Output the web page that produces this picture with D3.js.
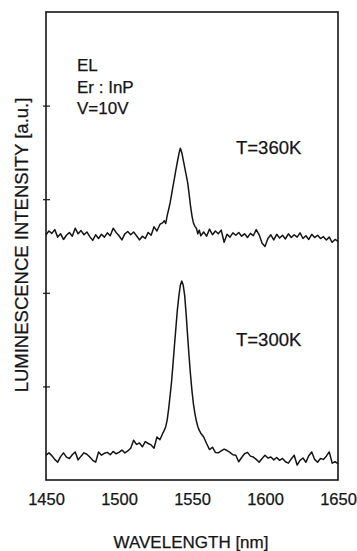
<!DOCTYPE html>
<html>
<head>
<meta charset="utf-8">
<script src="https://cdn.jsdelivr.net/npm/d3@7"></script>
<style>
  body { margin: 0; background: #fff; }
  svg text { font-family: "Liberation Sans", Arial, sans-serif; fill: #151515; stroke: #151515; stroke-width: 0.25px; }
</style>
</head>
<body>
<div id="content"></div>
<script>
// EL spectra of Er:InP
var xTicks = [1450, 1500, 1550, 1600, 1650],
    yTicks = [20, 40, 60, 80],
    infoLines = ['EL', 'Er : InP', 'V=10V'],
    seriesNames = ['T=360K', 'T=300K'];

// [wavelength nm, intensity a.u.]
var spectrum360 = [
  [1450,52.4],[1452,53.2],[1454,52.7],[1456,53.5],[1458,51.9],[1460,52.6],[1462,51.4],[1464,52.3],
  [1466,52.9],[1468,52.1],[1470,53.8],[1472,52.6],[1474,53.3],[1476,52.4],[1478,53.0],[1480,52.0],
  [1482,51.2],[1484,52.4],[1486,51.6],[1488,52.5],[1490,51.9],[1492,52.8],[1494,52.2],[1496,53.8],
  [1498,52.9],[1500,52.2],[1502,51.3],[1504,52.6],[1506,53.1],[1508,52.4],[1510,53.0],[1512,52.2],
  [1514,51.3],[1516,52.1],[1518,51.6],[1520,52.9],[1522,52.3],[1524,54.1],[1526,53.2],[1528,54.6],
  [1530,55.0],[1531,55.4],[1532,54.8],[1533,56.5],[1534,57.8],[1535,59.2],[1536,61.0],[1537,62.8],
  [1538,64.5],[1539,66.3],[1540,68.0],[1541,69.6],[1542,70.9],[1543,70.0],[1544,68.4],[1545,66.8],
  [1546,65.2],[1547,63.6],[1548,61.2],[1549,58.5],[1550,56.4],[1551,54.9],[1552,54.2],[1553,53.8],
  [1554,52.6],[1555,53.4],[1556,52.2],[1558,53.0],[1560,52.1],[1562,53.6],[1564,52.4],[1566,53.2],
  [1568,52.6],[1570,53.4],[1572,50.8],[1574,52.5],[1576,51.9],[1578,52.8],[1580,52.3],[1582,52.9],
  [1584,52.1],[1586,52.6],[1588,51.8],[1590,52.7],[1592,52.2],[1594,53.5],[1596,52.4],[1598,50.6],
  [1600,49.9],[1602,51.6],[1604,52.4],[1606,51.3],[1608,52.5],[1610,51.7],[1612,52.3],[1614,51.5],
  [1616,52.6],[1618,51.8],[1620,52.4],[1622,51.9],[1624,52.8],[1626,51.6],[1628,52.2],[1630,51.4],
  [1632,52.5],[1634,51.8],[1636,52.3],[1638,51.6],[1640,52.0],[1642,51.3],[1644,51.9],[1646,50.8],
  [1648,51.4],[1650,51.0]
];

var spectrum300 = [
  [1450,5.3],[1452,5.8],[1454,5.2],[1456,4.4],[1458,3.8],[1460,5.0],[1462,5.8],[1464,4.9],
  [1466,4.6],[1468,5.4],[1470,6.0],[1472,4.3],[1474,5.1],[1476,5.8],[1478,5.5],[1480,4.9],
  [1482,4.2],[1484,3.8],[1486,6.0],[1488,5.3],[1490,5.7],[1492,5.9],[1494,5.4],[1496,6.1],
  [1498,5.6],[1500,5.9],[1502,6.4],[1504,5.8],[1506,6.2],[1508,6.8],[1510,8.5],[1512,7.6],
  [1514,7.9],[1516,7.1],[1518,8.2],[1520,7.8],[1522,7.5],[1524,6.8],[1526,9.2],[1528,8.6],
  [1530,10.0],[1531,10.6],[1532,11.4],[1533,12.8],[1534,15.2],[1535,18.0],[1536,21.0],[1537,24.8],
  [1538,28.8],[1539,32.6],[1540,36.4],[1541,39.3],[1542,41.6],[1543,42.5],[1544,41.6],[1545,39.4],
  [1546,35.4],[1547,30.8],[1548,26.4],[1549,22.4],[1550,19.0],[1551,16.2],[1552,14.2],[1553,12.6],
  [1554,11.4],[1555,10.6],[1556,10.0],[1558,9.2],[1560,7.8],[1562,6.5],[1564,7.0],[1566,5.9],
  [1568,5.8],[1570,6.2],[1572,6.6],[1574,6.3],[1576,5.9],[1578,5.4],[1580,5.3],[1582,3.9],
  [1584,4.8],[1586,5.6],[1588,5.9],[1590,5.1],[1592,4.9],[1594,4.4],[1596,3.8],[1598,4.6],
  [1600,5.3],[1602,4.7],[1604,4.9],[1606,4.3],[1608,4.8],[1610,4.2],[1612,4.6],[1614,3.9],
  [1616,3.6],[1618,4.5],[1620,5.3],[1622,3.2],[1624,4.2],[1626,4.7],[1628,3.8],[1630,5.2],
  [1632,6.0],[1634,4.4],[1636,3.8],[1638,4.6],[1640,4.4],[1642,5.1],[1644,6.0],[1646,3.6],
  [1648,3.9],[1650,3.5]
];

var width = 357,
    height = 551,
    margin = {top: 12, right: 19, bottom: 71, left: 46},
    innerW = width - margin.left - margin.right,
    innerH = height - margin.top - margin.bottom;

var xScale = d3.scaleLinear().domain([1450, 1650]).range([0, innerW]),
    yScale = d3.scaleLinear().domain([0, 100]).range([innerH, 0]);

var svg = d3.select('#content').append('svg')
    .attr('width', width)
    .attr('height', height);

var g = svg.append('g')
    .attr('transform', 'translate(' + margin.left + ',' + margin.top + ')');

// frame
g.append('rect')
    .attr('width', innerW)
    .attr('height', innerH)
    .attr('fill', 'none')
    .attr('stroke', '#151515')
    .attr('stroke-width', 1.6);

// x axis: labels only
var xAxis = g.append('g')
    .attr('transform', 'translate(0,' + innerH + ')')
    .call(d3.axisBottom(xScale).tickValues(xTicks).tickSize(0).tickPadding(13).tickFormat(d3.format('d')));
xAxis.select('.domain').remove();
xAxis.selectAll('text')
    .style('font-size', '16.5px');

// y axis: small ticks crossing the frame
var yAxis = g.append('g')
    .call(d3.axisLeft(yScale).tickValues(yTicks).tickFormat(''));
yAxis.select('.domain').remove();
yAxis.selectAll('.tick line')
    .attr('x1', -3)
    .attr('x2', 4)
    .attr('stroke', '#151515')
    .attr('stroke-width', 1.2);

var line = d3.line()
    .x(function(d){ return xScale(d[0]); })
    .y(function(d){ return yScale(d[1]); });

[spectrum360, spectrum300].forEach(function(s){
    g.append('path')
        .datum(s)
        .attr('d', line)
        .attr('fill', 'none')
        .attr('stroke', '#151515')
        .attr('stroke-width', 1.5)
        .attr('stroke-linejoin', 'round');
});

// annotations
g.selectAll('text.info')
    .data(infoLines)
    .enter()
    .append('text')
    .attr('class', 'info')
    .attr('x', 31)
    .attr('y', function(d, i){ return 59 + i * 21.5; })
    .style('font-size', '17px')
    .text(function(d){ return d; });

g.selectAll('text.temp')
    .data(seriesNames)
    .enter()
    .append('text')
    .attr('class', 'temp')
    .attr('x', 190)
    .attr('y', function(d, i){ return i === 0 ? 142 : 334; })
    .style('font-size', '18.5px')
    .text(function(d){ return d; });

// axis titles
svg.append('text')
    .attr('x', margin.left + innerW / 2 - 1)
    .attr('y', 548)
    .attr('text-anchor', 'middle')
    .style('font-size', '17px')
    .text('WAVELENGTH [nm]');

svg.append('text')
    .attr('transform', 'translate(28,' + (margin.top + 233) + ') rotate(-90)')
    .attr('text-anchor', 'middle')
    .style('font-size', '18.5px')
    .text('LUMINESCENCE INTENSITY [a.u.]');
</script>
</body>
</html>
